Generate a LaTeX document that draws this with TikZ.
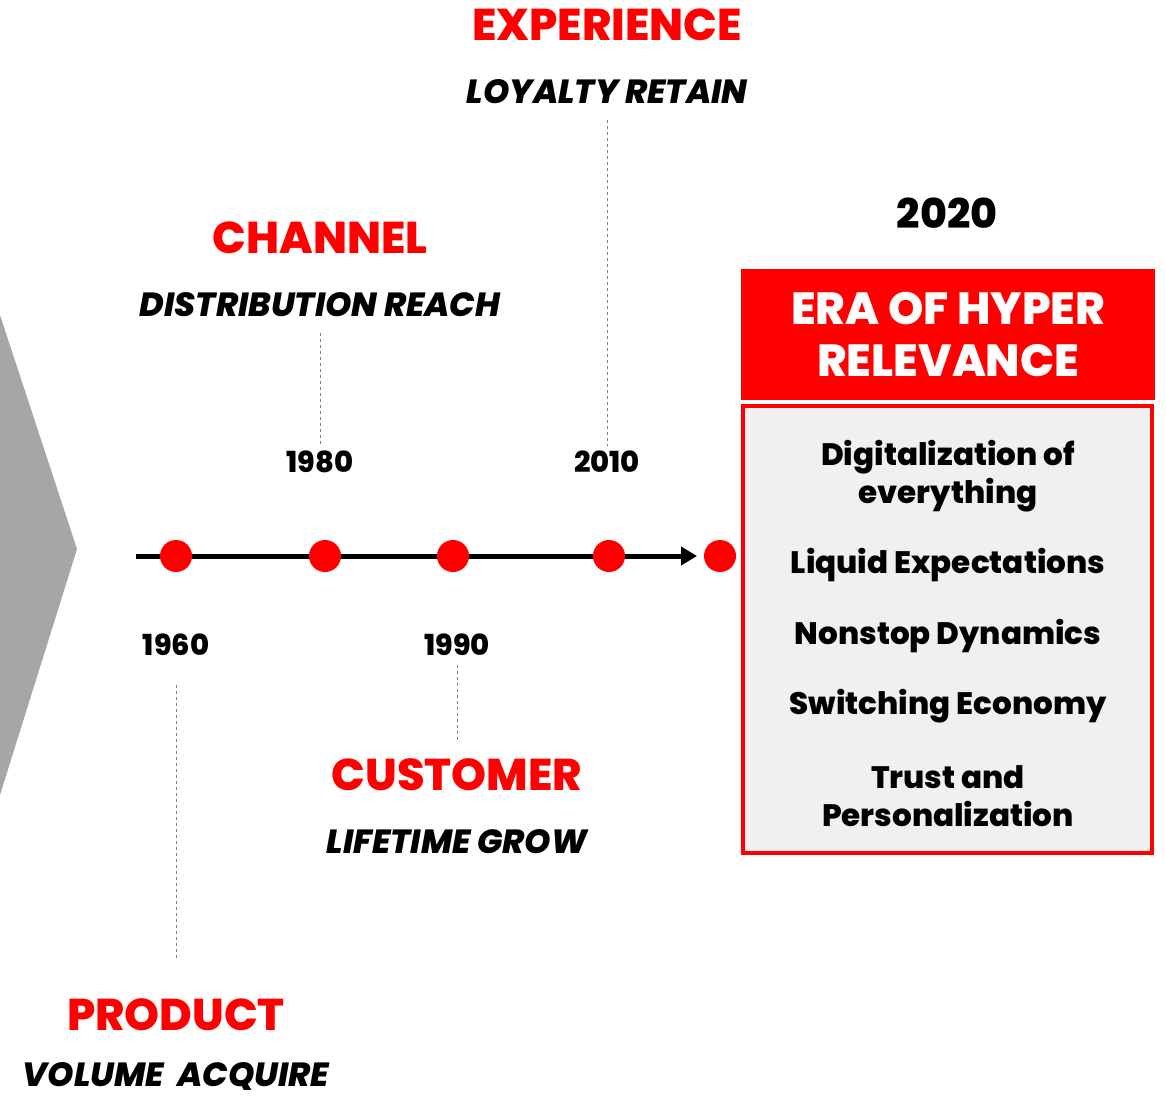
\documentclass[tikz,border=0pt]{standalone}
\usepackage{fontspec}
\setmainfont{Poppins}[BoldFont={Poppins ExtraBold}, BoldItalicFont={Poppins ExtraBold Italic}]
\usetikzlibrary{arrows.meta}
\definecolor{hred}{HTML}{FF0000}
\definecolor{chev}{HTML}{A6A6A6}
\definecolor{boxgray}{HTML}{F0F0F0}
\begin{document}
\begin{tikzpicture}[x=1pt,y=-1pt,
  era/.style={font=\fontsize{44.5}{48}\selectfont\bfseries, text=hred, anchor=center, inner sep=0},
  sub/.style={font=\fontsize{33.5}{36}\selectfont\bfseries\itshape, anchor=center, inner sep=0},
  yr/.style={font=\fontsize{29}{32}\selectfont\bfseries, anchor=center, inner sep=0},
  item/.style={font=\fontsize{31}{38}\selectfont\bfseries, anchor=center, align=center, inner sep=0},
  dot/.style={circle, fill=hred, minimum size=32pt, inner sep=0},
  guide/.style={draw=gray, line width=0.8pt, dash pattern=on 3pt off 3pt}]
\useasboundingbox (0,0) rectangle (1166,1097);
% chevron
\fill[chev] (0,315) -- (77,549) -- (0,795) -- cycle;
% timeline
\coordinate (tstart) at (136,556);
\coordinate (tend) at (697,556);
\draw[line width=5pt, -{Triangle[length=16pt,width=18pt]}] (tstart) -- (tend);
\node[dot] (d1) at (176,556) {};
\node[dot] (d2) at (325,556) {};
\node[dot] (d3) at (453,556) {};
\node[dot] (d4) at (609,556) {};
\node[dot] (d5) at (720,556) {};
% years
\node[yr] (y1960) at (176,645) {1960};
\node[yr] (y1980) at (320,462) {1980};
\node[yr] (y1990) at (457,645) {1990};
\node[yr] (y2010) at (607,462) {2010};
\node[font=\fontsize{41}{44}\selectfont\bfseries, inner sep=0] (y2020) at (947,213) {2020};
% eras
\node[era] (exp) at (607,25) {EXPERIENCE};
\node[sub] (expS) at (607,92) {LOYALTY RETAIN};
\node[era] (chan) at (320,238) {CHANNEL};
\node[sub] (chanS) at (320,305) {DISTRIBUTION REACH};
\node[era] (cust) at (457,775) {CUSTOMER};
\node[sub] (custS) at (457,842) {LIFETIME GROW};
\node[era] (prod) at (176,1015) {PRODUCT};
\node[sub] (prodS) at (176,1076) {VOLUME\ \ ACQUIRE};
% guides
\coordinate (g1a) at (607,120); \coordinate (g1b) at (607,446);
\draw[guide] (g1a) -- (g1b);
\coordinate (g2a) at (320,333); \coordinate (g2b) at (320,446);
\draw[guide] (g2a) -- (g2b);
\coordinate (g3a) at (176,685); \coordinate (g3b) at (176,958);
\draw[guide] (g3a) -- (g3b);
\coordinate (g4a) at (457,665); \coordinate (g4b) at (457,740);
\draw[guide] (g4a) -- (g4b);
% box
\node[fill=hred, minimum width=414pt, minimum height=131pt, inner sep=0, anchor=north west,
  font=\fontsize{45}{52}\selectfont\bfseries, text=white, align=center] (head) at (741,269) {ERA OF HYPER\\RELEVANCE};
\draw[hred, line width=4pt, fill=boxgray] (743,406) rectangle (1152,853);
\node[item] (i1) at (948,476) {Digitalization of\\everything};
\node[item] (i2) at (948,565) {Liquid Expectations};
\node[item] (i3) at (948,636) {Nonstop Dynamics};
\node[item] (i4) at (948,706) {Switching Economy};
\node[item] (i5) at (948,796) {Trust and\\Personalization};
\end{tikzpicture}
\end{document}
